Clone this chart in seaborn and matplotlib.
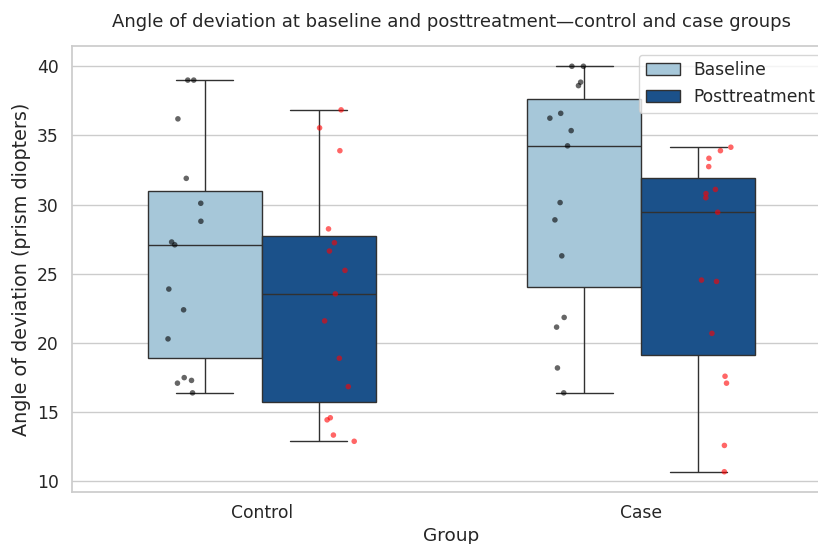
import numpy as np
import pandas as pd
import matplotlib
matplotlib.use("Agg")
import matplotlib.pyplot as plt
import seaborn as sns

groups = ["Control", "Case"]
timepoints = ["Baseline", "Posttreatment"]

control_baseline = [39.0, 39.0, 36.2, 31.9, 30.1, 28.8, 27.3, 27.1, 23.9, 22.4,
                    20.3, 17.5, 17.3, 17.1, 16.4]
control_post = [36.85, 35.55, 33.9, 28.25, 27.25, 26.65, 25.25, 23.55, 21.6, 18.9,
                16.85, 14.6, 14.45, 13.35, 12.9]
case_baseline = [40.0, 40.0, 38.85, 38.6, 36.6, 36.25, 35.35, 34.25, 30.15, 28.9,
                 26.3, 21.85, 21.15, 18.2, 16.4]
case_post = [34.15, 33.9, 33.35, 32.75, 31.1, 30.8, 30.5, 29.45, 24.55, 24.45,
             20.7, 17.6, 17.1, 12.6, 10.7]

box_colors = ["#9ecae1", "#08519c"]
point_colors = ["black", "red"]

series = {
    ("Control", "Baseline"): control_baseline,
    ("Control", "Posttreatment"): control_post,
    ("Case", "Baseline"): case_baseline,
    ("Case", "Posttreatment"): case_post,
}
rows = []
for (g, t), vals in series.items():
    for v in vals:
        rows.append((g, t, v))
df = pd.DataFrame(rows, columns=["Group", "Time", "Angle"])

sns.set_theme(style="whitegrid")
fig = plt.figure(figsize=(8.18, 5.44), dpi=100)
ax = fig.add_axes([72 / 818, 52 / 544, 759 / 818, 446 / 544])

sns.boxplot(data=df, x="Group", y="Angle", hue="Time", order=groups,
            hue_order=timepoints, palette=box_colors, width=0.6,
            showfliers=False, ax=ax)
np.random.seed(3)
sns.stripplot(data=df, x="Group", y="Angle", hue="Time", order=groups,
              hue_order=timepoints, palette=point_colors, dodge=True,
              jitter=True, size=4, alpha=0.6, legend=False, ax=ax)

leg = ax.get_legend()
handles = leg.legend_handles
labels = [t.get_text() for t in leg.get_texts()]
ax.legend(handles, labels, loc="upper right", fontsize=12.3)

ax.set_title("Angle of deviation at baseline and posttreatment\u2014control and case groups",
             fontsize=13, pad=14)
ax.set_xlabel("Group", fontsize=13.3, labelpad=3)
ax.set_ylabel("Angle of deviation (prism diopters)", fontsize=13.8)
ax.tick_params(axis="both", labelsize=12.3)
ax.tick_params(axis="x", pad=3)

fig.savefig("out.png", dpi=100)
